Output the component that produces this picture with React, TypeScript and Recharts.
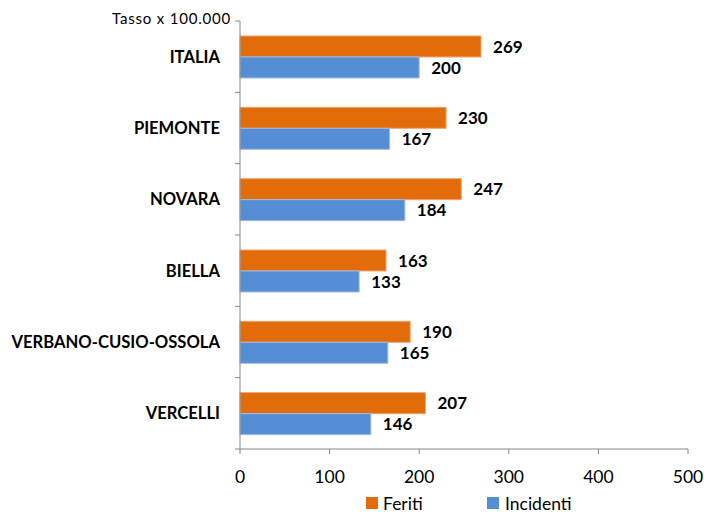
import React from "react";
import { BarChart, Bar, XAxis, YAxis, LabelList } from "recharts";

const categories = ["ITALIA", "PIEMONTE", "NOVARA", "BIELLA", "VERBANO-CUSIO-OSSOLA", "VERCELLI"];
const feriti = [269, 230, 247, 163, 190, 207];
const incidenti = [200, 167, 184, 133, 165, 146];
const xTicks = [0, 100, 200, 300, 400, 500];

const data = categories.map((c, i) => ({ name: c, Feriti: feriti[i], Incidenti: incidenti[i] }));

const ORANGE = "#E36C0A";
const BLUE = "#558ED5";
const FONT = "Lato, 'Open Sans', sans-serif";

export default function App() {
  return (
    <div style={{ position: "absolute", left: 0, top: 0, width: 704, height: 516, background: "#fff", fontFamily: FONT }}>
      <BarChart
        width={704}
        height={516}
        data={data}
        layout="vertical"
        margin={{ top: 21, right: 16, bottom: 37, left: 0 }}
        barCategoryGap="21%"
        barGap={0}
      >
        <XAxis
          type="number"
          domain={[0, 500]}
          ticks={xTicks}
          height={30}
          axisLine={{ stroke: "#868686" }}
          tickLine={{ stroke: "#868686" }}
          tickSize={5}
          tickMargin={17}
          tick={{ fill: "#000", fontSize: 17.5, fontFamily: FONT }}
        />
        <YAxis
          type="category"
          dataKey="name"
          width={240}
          axisLine={{ stroke: "#868686" }}
          tickLine={false}
          tick={{ fill: "#000", fontSize: 16.6, fontWeight: 700, fontFamily: FONT, dx: -12 }}
        />
        <Bar dataKey="Feriti" fill={ORANGE} stroke="#F2A46A" strokeWidth={1} isAnimationActive={false}>
          <LabelList dataKey="Feriti" position="right" offset={12} fill="#000" fontSize={17} fontWeight={700} fontFamily={FONT} />
        </Bar>
        <Bar dataKey="Incidenti" fill={BLUE} stroke="#9DBCE6" strokeWidth={1} isAnimationActive={false}>
          <LabelList dataKey="Incidenti" position="right" offset={12} fill="#000" fontSize={17} fontWeight={700} fontFamily={FONT} />
        </Bar>
      </BarChart>
      <svg width={704} height={516} style={{ position: "absolute", left: 0, top: 0, pointerEvents: "none" }}>
        {[0, 1, 2, 3, 4, 5, 6].map((i) => {
          const y = 21 + (i * (449 - 21)) / 6;
          return <line key={i} x1={235} x2={240} y1={y} y2={y} stroke="#868686" strokeWidth={1} />;
        })}
        <text x={231} y={24} textAnchor="end" fontSize={15} letterSpacing={0.8} fontFamily={FONT} fill="#000">Tasso x 100.000</text>
        <rect x={366} y={497} width={12} height={12} fill={ORANGE} />
        <text x={383} y={510} fontSize={17.5} fontFamily={FONT} fill="#000">Feriti</text>
        <rect x={487} y={497} width={12} height={12} fill={BLUE} />
        <text x={505} y={510} fontSize={17.5} fontFamily={FONT} fill="#000">Incidenti</text>
      </svg>
    </div>
  );
}
